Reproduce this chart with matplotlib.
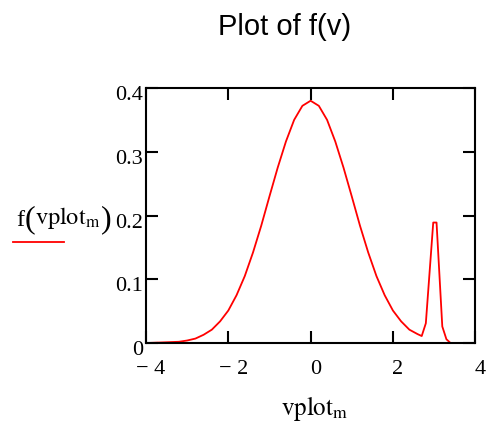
import numpy as np
import matplotlib.pyplot as plt
from matplotlib.transforms import ScaledTranslation

# values
v = [-4.0, -3.6, -3.2, -3.0, -2.8, -2.6, -2.4, -2.2, -2.0, -1.8, -1.6, -1.4,
     -1.2, -1.0, -0.8, -0.6, -0.4, -0.2, 0.0, 0.2, 0.4, 0.6, 0.8, 1.0, 1.2,
     1.4, 1.6, 1.8, 2.0, 2.2, 2.4, 2.6, 2.7, 2.8, 2.98, 3.06, 3.2, 3.3, 3.4, 4.0]
f = [0.000, 0.001, 0.002, 0.004, 0.007, 0.013, 0.021, 0.034, 0.051, 0.075,
     0.105, 0.142, 0.184, 0.230, 0.275, 0.316, 0.350, 0.372, 0.380, 0.372,
     0.350, 0.316, 0.275, 0.230, 0.184, 0.142, 0.105, 0.075, 0.051, 0.034,
     0.021, 0.014, 0.011, 0.031, 0.189, 0.189, 0.026, 0.006, 0.000, 0.000]

xticks = [-4, -2, 0, 2, 4]
xlabels = ['\u2212 4', '\u2212 2', '0', '2', '4']
yticks = [0, 0.1, 0.2, 0.3, 0.4]
ylabels = ['0', '0.1', '0.2', '0.3', '0.4']

plt.rcParams['mathtext.fontset'] = 'stix'

fig = plt.figure(figsize=(4.87, 4.23), dpi=100)
ax = fig.add_axes([0.2998, 0.189, 0.676, 0.603])
ax.plot(v, f, color='red', linewidth=1.3)

ax.set_xlim(-4, 4)
ax.set_ylim(0, 0.4)
ax.set_xticks(xticks)
ax.set_xticklabels(xlabels, family='Liberation Serif', fontsize=16)
ax.set_yticks(yticks)
ax.set_yticklabels(ylabels, family='Liberation Serif', fontsize=16)
ax.tick_params(direction='in', length=8.5, width=1.5, top=True, right=True)
ax.tick_params(axis='x', pad=12)
ax.tick_params(axis='y', pad=2)
for s in ax.spines.values():
    s.set_linewidth(1.5)

# mathcad puts tick labels slightly right / below the tick
for lab in ax.get_xticklabels():
    lab.set_transform(lab.get_transform() + ScaledTranslation(0.05, 0, fig.dpi_scale_trans))
for lab in ax.get_yticklabels():
    lab.set_transform(lab.get_transform() + ScaledTranslation(0, -0.05, fig.dpi_scale_trans))

fig.text(0.585, 0.936, 'Plot of f(v)', ha='center', va='center',
         family='Liberation Sans', fontsize=21)
fig.text(0.647, 0.035, r'$\mathrm{vplot_m}$', ha='center', va='center', fontsize=18)

# y label: f ( vplot_m ) with taller parentheses
t1 = fig.text(0.033, 0.465, 'f', ha='left', va='baseline',
              family='Liberation Serif', fontsize=17.5)
t2 = ax.annotate('(', xy=(1, 0), xycoords=t1, xytext=(0.5, -2), textcoords='offset points',
                 ha='left', va='bottom', family='Liberation Serif', fontsize=23,
                 annotation_clip=False)
t3 = ax.annotate(r'$\mathrm{vplot_m}$', xy=(1, 0), xycoords=t1, xytext=(8, 0),
                 textcoords='offset points', ha='left', va='bottom', fontsize=17.5,
                 annotation_clip=False)
t4 = ax.annotate(')', xy=(1, 0), xycoords=t3, xytext=(0, -2), textcoords='offset points',
                 ha='left', va='bottom', family='Liberation Serif', fontsize=23,
                 annotation_clip=False)
fig.add_artist(plt.Line2D([0.027, 0.131], [0.429, 0.429], color='red',
                          linewidth=1.3, transform=fig.transFigure))

fig.savefig('out.png', dpi=100)
